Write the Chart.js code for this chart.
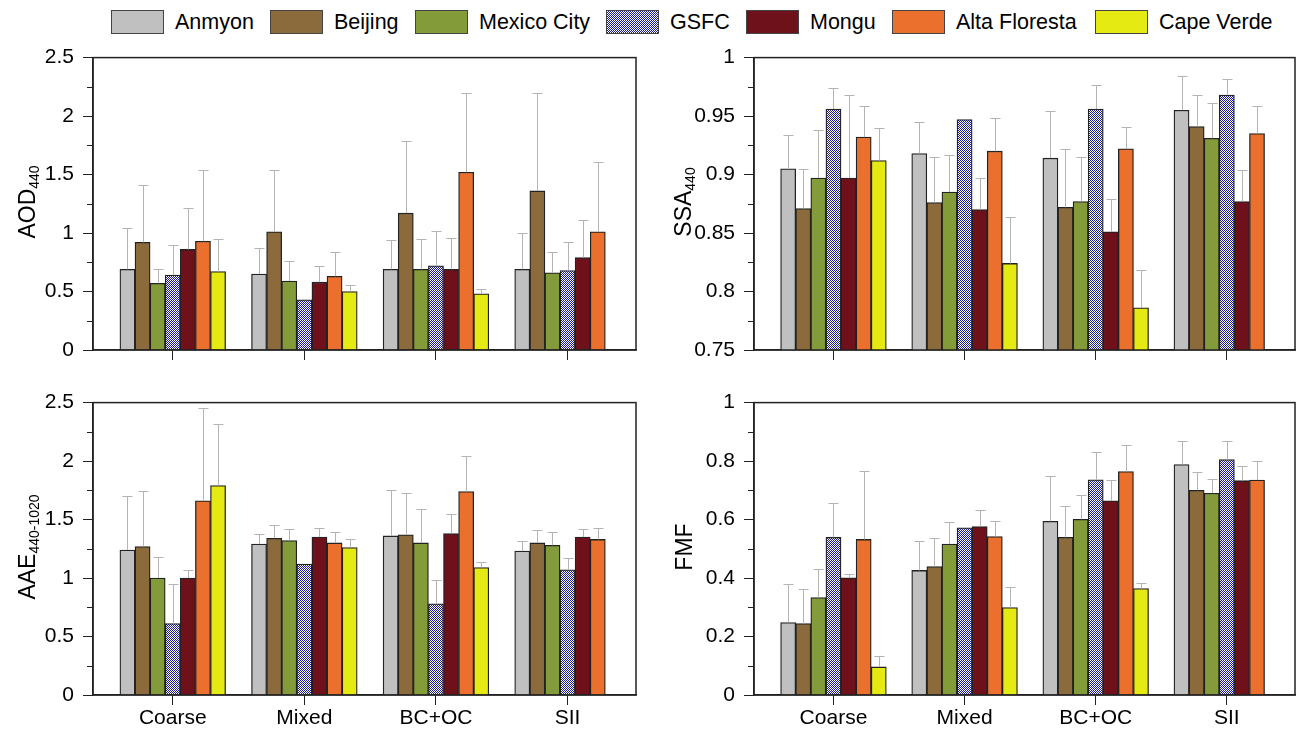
<!DOCTYPE html>
<html>
<head>
<meta charset="utf-8">
<script src="https://cdn.jsdelivr.net/npm/chart.js@4.4.1/dist/chart.umd.min.js"></script>
<style>
  body { margin: 0; background: #fff; width: 1299px; height: 729px; position: relative; overflow: hidden;
         font-family: "Liberation Sans", Arial, sans-serif; color: #000; }
  canvas { position: absolute; }
  .ytitle { position: absolute; transform: translate(-50%, -50%) rotate(-90deg); font-size: 23px; white-space: nowrap; }
  .ytitle sub { font-size: 14px; vertical-align: -4px; }
  .leg { position: absolute; top: 10px; height: 24px; }
  .leg .box { position: absolute; left: 0; top: 0; width: 51px; height: 22px; border: 1px solid #444; }
  .leg .txt { position: absolute; left: 64px; top: 0; line-height: 24px; font-size: 21.5px; white-space: nowrap; }
</style>
</head>
<body>
<canvas id="aod" width="623" height="348" style="left:23px;top:36px"></canvas>
<canvas id="ssa" width="615" height="348" style="left:684px;top:36px"></canvas>
<canvas id="aae" width="623" height="348" style="left:23px;top:381px"></canvas>
<canvas id="fmf" width="615" height="348" style="left:684px;top:381px"></canvas>

<div class="ytitle" style="left:28px;top:202px">AOD<sub>440</sub></div>
<div class="ytitle" style="left:684px;top:202px">SSA<sub>440</sub></div>
<div class="ytitle" style="left:28px;top:547px">AAE<sub>440-1020</sub></div>
<div class="ytitle" style="left:684px;top:547px">FMF</div>
<div id="legend"></div>

<script>
const categories = ['Coarse', 'Mixed', 'BC+OC', 'SII'];
const sites = ['Anmyon', 'Beijing', 'Mexico City', 'GSFC', 'Mongu', 'Alta Floresta', 'Cape Verde'];
const colors = ['#c0c0c0', '#8b6a3c', '#849b3a', 'pattern', '#6e111b', '#eb702d', '#e5ea12'];

// rows = sites, columns = categories
const aod = [
  [0.69, 0.65, 0.69, 0.69],
  [0.92, 1.01, 1.17, 1.36],
  [0.57, 0.59, 0.69, 0.66],
  [0.64, 0.43, 0.72, 0.68],
  [0.86, 0.58, 0.69, 0.79],
  [0.93, 0.63, 1.52, 1.01],
  [0.67, 0.50, 0.48, null]
];
const aodSd = [
  [0.35, 0.22, 0.25, 0.31],
  [0.49, 0.53, 0.62, 0.84],
  [0.12, 0.17, 0.26, 0.18],
  [0.26, null, 0.30, 0.24],
  [0.35, 0.14, 0.27, 0.32],
  [0.61, 0.21, 0.68, 0.60],
  [0.28, 0.06, 0.04, null]
];

const ssa = [
  [0.905, 0.918, 0.914, 0.955],
  [0.871, 0.876, 0.872, 0.941],
  [0.897, 0.885, 0.877, 0.931],
  [0.956, 0.947, 0.956, 0.968],
  [0.897, 0.870, 0.851, 0.877],
  [0.932, 0.920, 0.922, 0.935],
  [0.912, 0.824, 0.786, null]
];
const ssaSd = [
  [0.029, 0.027, 0.040, 0.029],
  [0.034, 0.039, 0.050, 0.027],
  [0.041, 0.032, 0.038, 0.030],
  [0.018, null, 0.021, 0.014],
  [0.071, 0.027, 0.028, 0.027],
  [0.027, 0.028, 0.019, 0.024],
  [0.028, 0.040, 0.032, null]
];

const aae = [
  [1.24, 1.29, 1.36, 1.23],
  [1.27, 1.34, 1.37, 1.30],
  [1.00, 1.32, 1.30, 1.28],
  [0.61, 1.12, 0.78, 1.07],
  [1.00, 1.35, 1.38, 1.35],
  [1.66, 1.30, 1.74, 1.33],
  [1.79, 1.26, 1.09, null]
];
const aaeSd = [
  [0.46, 0.09, 0.39, 0.09],
  [0.47, 0.11, 0.36, 0.11],
  [0.18, 0.10, 0.29, 0.11],
  [0.34, null, 0.20, 0.10],
  [0.07, 0.08, 0.17, 0.07],
  [0.79, 0.09, 0.30, 0.10],
  [0.53, 0.07, 0.05, null]
];

const fmf = [
  [0.248, 0.426, 0.594, 0.788],
  [0.244, 0.439, 0.539, 0.700],
  [0.333, 0.516, 0.601, 0.690],
  [0.539, 0.572, 0.736, 0.805],
  [0.401, 0.576, 0.664, 0.733],
  [0.532, 0.542, 0.764, 0.735],
  [0.096, 0.299, 0.364, null]
];
const fmfSd = [
  [0.130, 0.100, 0.156, 0.079],
  [0.117, 0.098, 0.106, 0.061],
  [0.099, 0.075, 0.084, 0.050],
  [0.119, null, 0.096, 0.063],
  [0.014, 0.055, 0.072, 0.051],
  [0.235, 0.052, 0.091, 0.065],
  [0.036, 0.071, 0.019, null]
];

// navy/white checker for GSFC
function checker() {
  const c = document.createElement('canvas');
  c.width = 2; c.height = 2;
  const g = c.getContext('2d');
  g.fillStyle = '#fff'; g.fillRect(0, 0, 2, 2);
  g.fillStyle = '#1c1c8c'; g.fillRect(0, 0, 1, 1); g.fillRect(1, 1, 1, 1);
  return g.createPattern(c, 'repeat');
}

// upper error bars, light grey
const errorBars = {
  id: 'errorBars',
  afterDatasetsDraw(chart) {
    const ctx = chart.ctx;
    const y = chart.scales.y;
    ctx.save();
    ctx.strokeStyle = '#b4b4b4';
    ctx.lineWidth = 1;
    chart.data.datasets.forEach((ds, i) => {
      chart.getDatasetMeta(i).data.forEach((bar, j) => {
        const v = ds.data[j].y, sd = ds.errors[j];
        if (v == null || sd == null) return;
        const x = Math.round(bar.x) + 0.5;
        const top = Math.round(y.getPixelForValue(v + sd)) + 0.5;
        ctx.beginPath();
        ctx.moveTo(x, bar.y);
        ctx.lineTo(x, top);
        ctx.moveTo(x - 5, top);
        ctx.lineTo(x + 5, top);
        ctx.stroke();
      });
    });
    ctx.restore();
  }
};

// box around plot + minor y ticks
const frame = {
  id: 'frame',
  afterDraw(chart, args, opts) {
    const ctx = chart.ctx, a = chart.chartArea, y = chart.scales.y;
    ctx.save();
    ctx.strokeStyle = '#222';
    ctx.lineWidth = 1.5;
    ctx.strokeRect(a.left, a.top, a.right - a.left, a.bottom - a.top);
    ctx.lineWidth = 1;
    const n = Math.round((y.max - y.min) / opts.minor);
    for (let k = 1; k < n; k += 2) {
      const p = Math.round(y.getPixelForValue(y.min + k * opts.minor)) + 0.5;
      ctx.beginPath();
      ctx.moveTo(a.left - 6, p);
      ctx.lineTo(a.left, p);
      ctx.stroke();
    }
    ctx.restore();
  }
};

const tickFont = { family: '"Liberation Sans", Arial, sans-serif', size: 21 };

function makeChart(id, values, sds, yMin, yMax, step, minor, padRight, showX) {
  return new Chart(document.getElementById(id), {
    type: 'bar',
    data: {
      datasets: sites.map((s, i) => ({
        label: s,
        data: values[i].map((v, j) => ({ x: j + 1, y: v })),
        errors: sds[i],
        backgroundColor: colors[i] === 'pattern' ? checker() : colors[i],
        borderColor: '#222',
        borderWidth: 1.3,
        barThickness: 15.1
      }))
    },
    options: {
      responsive: false,
      animation: false,
      layout: { padding: { top: 10, right: padRight, left: 0, bottom: 0 } },
      plugins: { legend: { display: false }, tooltip: { enabled: false }, frame: { minor } },
      scales: {
        x: {
          type: 'linear', min: 0.394, max: 4.52, bounds: 'data', offset: false,
          afterBuildTicks: s => { s.ticks = categories.map((c, i) => ({ value: i + 1 })); },
          afterFit: s => { s.height = 34; },
          ticks: { display: showX, callback: v => categories[v - 1], font: tickFont, color: '#000', padding: 1, maxRotation: 0, autoSkip: false },
          grid: { drawOnChartArea: false, offset: false, tickLength: 10, color: '#222' },
          border: { color: '#222', width: 1.5 }
        },
        y: {
          min: yMin, max: yMax,
          afterFit: s => { s.width = 70; },
          ticks: { stepSize: step, callback: v => String(+v.toFixed(3)), font: tickFont, color: '#000', padding: 9 },
          grid: { drawOnChartArea: false, tickLength: 10, color: '#222' },
          border: { color: '#222', width: 1.5 }
        }
      }
    },
    plugins: [errorBars, frame]
  });
}

makeChart('aod', aod, aodSd, 0, 2.5, 0.5, 0.25, 10, false);
makeChart('ssa', ssa, ssaSd, 0.75, 1, 0.05, 0.025, 4, false);
makeChart('aae', aae, aaeSd, 0, 2.5, 0.5, 0.25, 10, true);
makeChart('fmf', fmf, fmfSd, 0, 1, 0.2, 0.1, 4, true);

// legend row
const legLeft = [111, 270, 415, 606, 746, 892, 1095];
const legend = document.getElementById('legend');
sites.forEach((s, i) => {
  const item = document.createElement('div');
  item.className = 'leg';
  item.style.left = legLeft[i] + 'px';
  const box = document.createElement('div');
  box.className = 'box';
  if (colors[i] === 'pattern') {
    box.style.background = 'repeating-conic-gradient(#1c1c8c 0 25%, #fff 0 50%) 0 0 / 2px 2px';
  } else {
    box.style.background = colors[i];
  }
  const txt = document.createElement('span');
  txt.className = 'txt';
  txt.textContent = s;
  item.appendChild(box);
  item.appendChild(txt);
  legend.appendChild(item);
});
</script>
</body>
</html>
